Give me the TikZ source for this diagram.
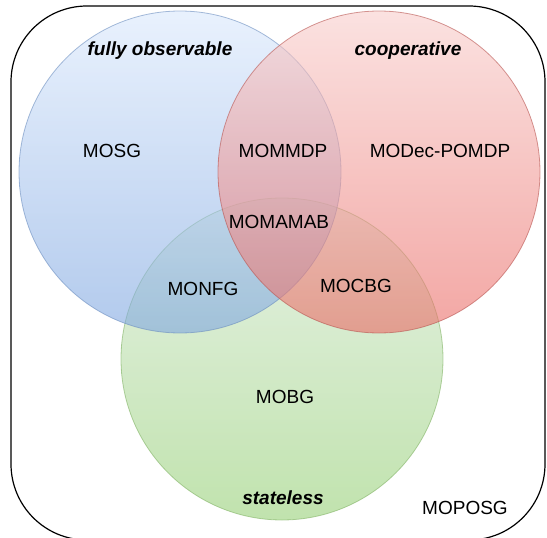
\documentclass[tikz,border=0pt]{standalone}
\usepackage{fontspec}
\setmainfont{Liberation Sans}
\usepackage{xcolor}
\usepackage{tikz}

\definecolor{foTop}{HTML}{DAE8FC}
\definecolor{foBot}{HTML}{7EA6E0}
\definecolor{foLine}{HTML}{6C8EBF}
\definecolor{coTop}{HTML}{F8CECC}
\definecolor{coBot}{HTML}{EA6B66}
\definecolor{coLine}{HTML}{B85450}
\definecolor{slTop}{HTML}{D5E8D4}
\definecolor{slBot}{HTML}{97D077}
\definecolor{slLine}{HTML}{82B366}

\begin{document}
\begin{tikzpicture}[x=1pt,y=-1pt,
            set/.style={circle,minimum size=322pt,inner sep=0pt,line width=0.8pt,
                fill opacity=0.6,draw opacity=0.6},
            model/.style={anchor=base,inner sep=0pt,font=\fontsize{19}{23}\selectfont},
            setname/.style={model,font=\fontsize{19}{23}\selectfont\bfseries\itshape}]
        \useasboundingbox (0,0) rectangle (547,538);

        \draw[line width=1.2pt,rounded corners=76pt] (11,6) rectangle (545,540);

        \node[set,draw=slLine,top color=slTop,bottom color=slBot] (SL) at (282,359) {};
        \node[set,draw=foLine,top color=foTop,bottom color=foBot] (FO) at (180,172) {};
        \node[set,draw=coLine,top color=coTop,bottom color=coBot] (CO) at (379,172) {};

        \node[setname] (fo) at (160,55) {fully observable};
        \node[setname] (co) at (408,55) {cooperative};
        \node[setname] (sl) at (283,504) {stateless};

        \node[model] (mosg) at (112,157) {MOSG};
        \node[model] (mommdp) at (283,157) {MOMMDP};
        \node[model] (modec) at (440,157) {MODec-POMDP};
        \node[model] (momamab) at (279,228) {MOMAMAB};
        \node[model] (monfg) at (203,295) {MONFG};
        \node[model] (mocbg) at (356,292) {MOCBG};
        \node[model] (mobg) at (285,403) {MOBG};
        \node[model] (moposg) at (465,514) {MOPOSG};
    \end{tikzpicture}
\end{document}
